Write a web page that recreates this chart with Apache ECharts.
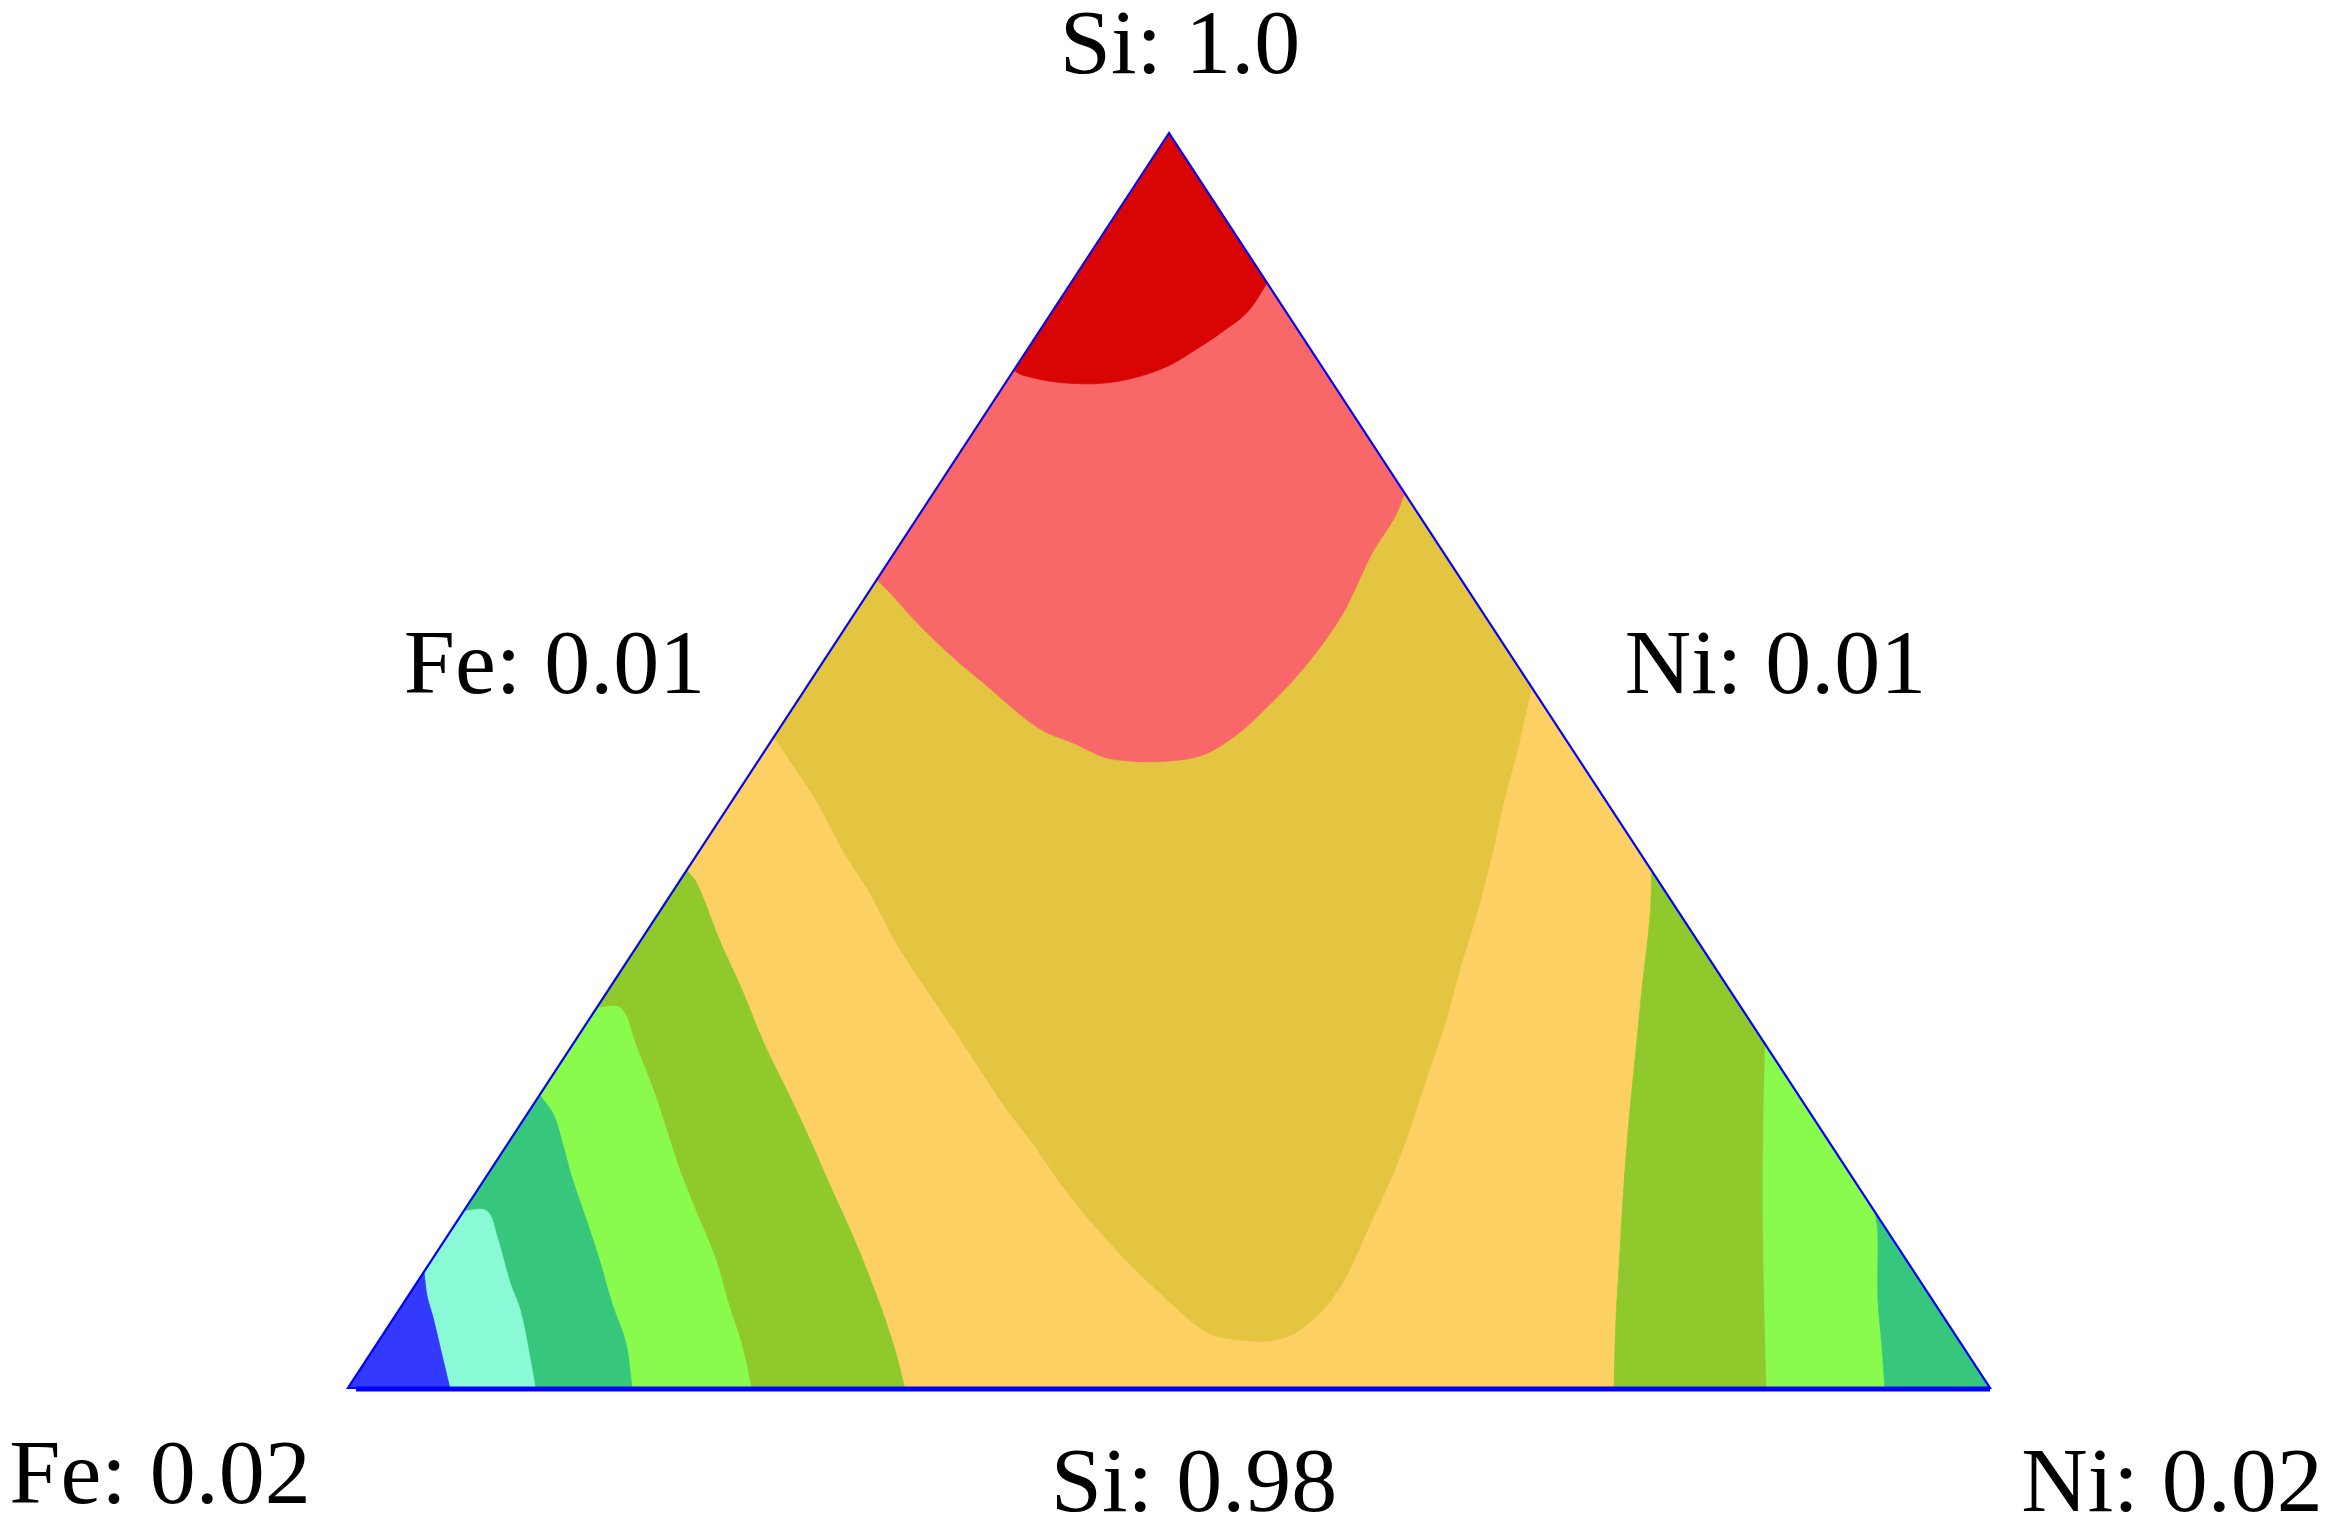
<!DOCTYPE html>
<html>
<head>
<meta charset="utf-8">
<title>Si-Fe-Ni ternary contour</title>
<script src="https://cdn.jsdelivr.net/npm/echarts@6/dist/echarts.min.js"></script>
<style>
  html, body { margin: 0; padding: 0; background: #fff; }
  #main { width: 2336px; height: 1533px; }
</style>
</head>
<body>
<div id="main"></div>
<script type="text/javascript">
  // every point is a composition [Fe, Ni] (mole fraction), Si = 1 - Fe - Ni
  var FE_MAX = 0.02, NI_MAX = 0.02;

  var cornerSi = [0, 0];
  var cornerFe = [0.02, 0];
  var cornerNi = [0, 0.02];

  // contour boundaries
  var lineRed = [[0.00378,0],[0.00371,0.00015],[0.00328,0.00070],[0.00267,0.00130],[0.00195,0.00180],
    [0.00133,0.00208],[0.00097,0.00222],[0.00048,0.00238],[0,0.00239]];
  var lineSalmon = [[0.00712,0],[0.00706,0.00027],[0.00697,0.00084],[0.00681,0.00154],[0.00664,0.00213],
    [0.00634,0.00313],[0.00603,0.00369],[0.00567,0.00431],[0.00474,0.00523],[0.00411,0.00557],
    [0.00324,0.00580],[0.00248,0.00592],[0.00176,0.00595],[0.00125,0.00588],[0.00087,0.00582],
    [0.00031,0.00581],[0,0.00574]];
  var lineMustard = [[0.00963,0],[0.00961,0.00084],[0.00963,0.00120],[0.00969,0.00177],[0.00970,0.00241],
    [0.00978,0.00323],[0.00976,0.00469],[0.00976,0.00570],[0.00971,0.00640],[0.00968,0.00722],
    [0.00955,0.00821],[0.00933,0.00923],[0.00910,0.01000],[0.00884,0.01038],[0.00830,0.01093],
    [0.00779,0.01118],[0.00714,0.01128],[0.00628,0.01115],[0.00535,0.01097],[0.00444,0.01068],
    [0.00369,0.01044],[0.00308,0.01019],[0.00250,0.00998],[0.00181,0.00968],[0.00128,0.00942],
    [0.00063,0.00914],[0,0.00883]];
  // Fe-rich corner
  var lineOliveL = [[0.01175,0],[0.01173,0.00023],[0.01191,0.00097],[0.01203,0.00163],[0.01219,0.00233],
    [0.01228,0.00295],[0.01239,0.00362],[0.01252,0.00428],[0.01264,0.00494],[0.01282,0.00568],
    [0.01302,0.00632],[0.01322,0.00678]];
  var lineGreenL = [[0.01394,0],[0.01365,0.00030],[0.01376,0.00076],[0.01390,0.00132],[0.01406,0.00181],
    [0.01422,0.00229],[0.01436,0.00286],[0.01449,0.00343],[0.01469,0.00395],[0.01487,0.00447],
    [0.01509,0.00491]];
  var lineTealL = [[0.01533,0],[0.01532,0.00033],[0.01545,0.00069],[0.01560,0.00106],[0.01575,0.00154],
    [0.01591,0.00202],[0.01611,0.00254],[0.01626,0.00303],[0.01654,0.00346]];
  var lineAquaL = [[0.01718,0],[0.01690,0.00028],[0.01698,0.00061],[0.01719,0.00114],[0.01728,0.00147],
    [0.01754,0.00197],[0.01772,0.00228]];
  var lineBlueL = [[0.01815,0],[0.01831,0.00024],[0.01840,0.00047],[0.01855,0.00079],[0.01876,0.00124]];
  // Ni-rich corner
  var lineOliveR = [[0,0.01176],[0.00038,0.01210],[0.00107,0.01259],[0.00161,0.01299],[0.00217,0.01340],
    [0.00286,0.01394],[0.00352,0.01449],[0.00401,0.01490],[0.00458,0.01542]];
  var lineGreenR = [[0,0.01453],[0.00054,0.01503],[0.00127,0.01574],[0.00197,0.01647],[0.00272,0.01728]];
  var lineTealR = [[0,0.01721],[0.00013,0.01740],[0.00064,0.01791],[0.00099,0.01836],[0.00128,0.01872]];

  // axis labels and where they hang
  var labelTexts = ['Si: 1.0', 'Fe: 0.01', 'Ni: 0.01', 'Fe: 0.02', 'Si: 0.98', 'Ni: 0.02'];
  var labelAnchors = [cornerSi, [0.01, 0], [0, 0.01], cornerFe, [0.01, 0.01], cornerNi];

  var colors = {
    orange: '#fdd063', mustard: '#e4c541', salmon: '#f96868', red: '#d90505',
    olive: '#8fc92c', green: '#8afb4c', teal: '#37c77c', aqua: '#8afad6', blue: '#3339fd'
  };
  var labelOffsets = [[11, -84], [-204, -92], [196, -92], [-188, 91], [25, 99], [182, 99]];

  // painted in order, each one over the previous
  var bands = [
    {color: colors.orange, line: null, corner: null},
    {color: colors.mustard, line: lineMustard, corner: cornerSi},
    {color: colors.salmon, line: lineSalmon, corner: cornerSi},
    {color: colors.red, line: lineRed, corner: cornerSi},
    {color: colors.olive, line: lineOliveL, corner: cornerFe},
    {color: colors.green, line: lineGreenL, corner: cornerFe},
    {color: colors.teal, line: lineTealL, corner: cornerFe},
    {color: colors.aqua, line: lineAquaL, corner: cornerFe},
    {color: colors.blue, line: lineBlueL, corner: cornerFe},
    {color: colors.olive, line: lineOliveR, corner: cornerNi},
    {color: colors.green, line: lineGreenR, corner: cornerNi},
    {color: colors.teal, line: lineTealR, corner: cornerNi}
  ];

  function toXY(p) {
    var a = p[0] / FE_MAX, b = p[1] / NI_MAX, c = 1 - a - b;
    return [b + 0.5 * c, c];
  }

  var chart = echarts.init(document.getElementById('main'));

  var option = {
    animation: false,
    backgroundColor: '#fff',
    grid: {left: 348, right: 346, top: 133, bottom: 145},
    xAxis: {type: 'value', min: 0, max: 1, show: false},
    yAxis: {type: 'value', min: 0, max: 1, show: false},
    series: [
      {
        type: 'custom',
        coordinateSystem: 'cartesian2d',
        clip: false,
        data: bands.map(function () { return [0.5, 0.5]; }),
        renderItem: function (params, api) {
          var band = bands[params.dataIndex];
          var coord = function (p) { return api.coord(toXY(p)); };
          if (!band.line) {
            return {
              type: 'polygon',
              shape: {points: [cornerSi, cornerFe, cornerNi].map(coord)},
              style: {fill: band.color}
            };
          }
          // doubled end points keep the triangle corners and edges sharp when smoothing
          var line = band.line.map(coord);
          var pts = [line[0]].concat(line, [line[line.length - 1]], [coord(band.corner), coord(band.corner)]);
          return {
            type: 'polygon',
            shape: {points: pts, smooth: 0.35},
            style: {fill: band.color, stroke: band.color, lineWidth: 0.8}
          };
        }
      },
      {
        // triangle frame
        type: 'custom',
        coordinateSystem: 'cartesian2d',
        clip: false,
        data: [[0.5, 0.5]],
        renderItem: function (params, api) {
          var t = api.coord(toXY(cornerSi)), l = api.coord(toXY(cornerFe)), r = api.coord(toXY(cornerNi));
          return {
            type: 'group',
            children: [
              {type: 'polygon', shape: {points: [t, l, r]}, style: {fill: null, stroke: '#0000ff', lineWidth: 2.2}},
              {type: 'line', shape: {x1: l[0] + 8, y1: l[1] + 1, x2: r[0], y2: r[1] + 1}, style: {stroke: '#0000ff', lineWidth: 5}}
            ]
          };
        }
      },
      {
        type: 'custom',
        coordinateSystem: 'cartesian2d',
        clip: false,
        data: labelAnchors.map(function (p) { return toXY(p); }),
        renderItem: function (params, api) {
          var i = params.dataIndex;
          var pt = api.coord([api.value(0), api.value(1)]);
          return {
            type: 'text',
            x: pt[0] + labelOffsets[i][0],
            y: pt[1] + labelOffsets[i][1],
            style: {
              text: labelTexts[i],
              fontSize: 92,
              fontFamily: '"Liberation Serif", "DejaVu Serif", serif',
              fill: '#000',
              align: 'center',
              verticalAlign: 'middle'
            }
          };
        }
      }
    ]
  };

  chart.setOption(option);
</script>
</body>
</html>
